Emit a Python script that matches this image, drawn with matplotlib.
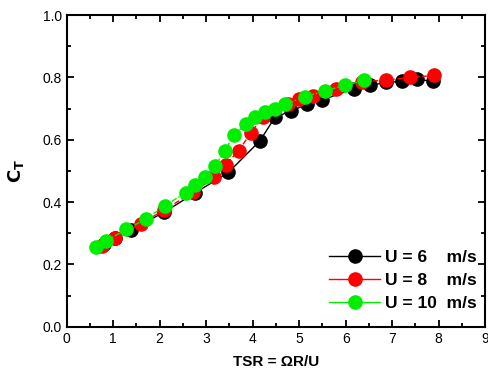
import matplotlib
matplotlib.use("Agg")
import matplotlib.pyplot as plt
from matplotlib.ticker import MultipleLocator

plt.rcParams["font.family"] = ["Liberation Sans", "DejaVu Sans"]

# U = 6 m/s
tsr_6 = [0.80, 1.04, 1.38, 2.09, 2.77, 3.48, 4.16, 4.48, 4.83, 5.17, 5.50, 6.19, 6.53, 6.87, 7.21, 7.54, 7.87]
ct_6 = [0.265, 0.284, 0.310, 0.367, 0.430, 0.495, 0.597, 0.672, 0.692, 0.714, 0.728, 0.764, 0.774, 0.784, 0.787, 0.794, 0.787]

# U = 8 m/s
tsr_8 = [0.77, 1.04, 1.59, 2.09, 2.72, 3.17, 3.42, 3.70, 3.96, 4.23, 4.77, 5.00, 5.29, 5.79, 6.35, 6.87, 7.38, 7.91]
ct_8 = [0.260, 0.286, 0.330, 0.374, 0.432, 0.479, 0.520, 0.565, 0.622, 0.674, 0.713, 0.730, 0.741, 0.764, 0.786, 0.791, 0.800, 0.806]

# U = 10 m/s
tsr_10 = [0.62, 0.85, 1.28, 1.71, 2.11, 2.56, 2.76, 2.97, 3.19, 3.40, 3.60, 3.85, 4.06, 4.27, 4.49, 4.70, 5.12, 5.55, 5.98, 6.39]
ct_10 = [0.257, 0.276, 0.312, 0.346, 0.388, 0.430, 0.455, 0.479, 0.516, 0.565, 0.616, 0.650, 0.672, 0.688, 0.700, 0.713, 0.738, 0.756, 0.774, 0.790]

fig = plt.figure(figsize=(4.89, 3.81), dpi=100)
ax = fig.add_axes([0.1364, 0.1425, 0.8556, 0.8181])

ms = 9.5
ax.plot(tsr_6, ct_6, "-", color="black", lw=1.0, marker="o", ms=ms, mec="black", mfc="black",
        label="U = 6    m/s")
ax.plot(tsr_8, ct_8, color="red", lw=1.0, ls=(0, (4, 2)), marker="o", ms=ms, mec="red", mfc="red",
        label="U = 8    m/s")
ax.plot(tsr_10, ct_10, color="#00ee00", lw=1.0, ls=(0, (4, 1.5, 1, 1.5)), marker="o", ms=ms,
        mec="#00ee00", mfc="#00ee00", label="U = 10  m/s")

ax.set_xlim(0, 9)
ax.set_ylim(0, 1.0)
ax.xaxis.set_major_locator(MultipleLocator(1))
ax.xaxis.set_minor_locator(MultipleLocator(0.5))
ax.yaxis.set_major_locator(MultipleLocator(0.2))
ax.yaxis.set_minor_locator(MultipleLocator(0.1))
ax.yaxis.set_major_formatter(matplotlib.ticker.FormatStrFormatter("%.1f"))
ax.tick_params(which="both", direction="in", top=True, right=True, labelsize=10, width=1.3)
ax.tick_params(which="major", length=5)
ax.tick_params(which="minor", length=3)
for s in ax.spines.values():
    s.set_linewidth(1.5)

ax.set_xlabel("TSR = ΩR/U", fontsize=11, fontweight="bold", labelpad=7)
ax.set_ylabel(r"$\mathbf{C_T}$", fontsize=13, labelpad=12)

# solid handles in the legend, like the original
leg = ax.legend(loc="lower right", bbox_to_anchor=(1.0215, -0.0064), frameon=False,
                handlelength=2.9, handletextpad=0.3, labelspacing=0.45,
                prop={"weight": "bold", "size": 12.5}, borderaxespad=0.6)
for h in leg.get_lines():
    h.set_linestyle("-")

fig.savefig("out.png", dpi=100)
